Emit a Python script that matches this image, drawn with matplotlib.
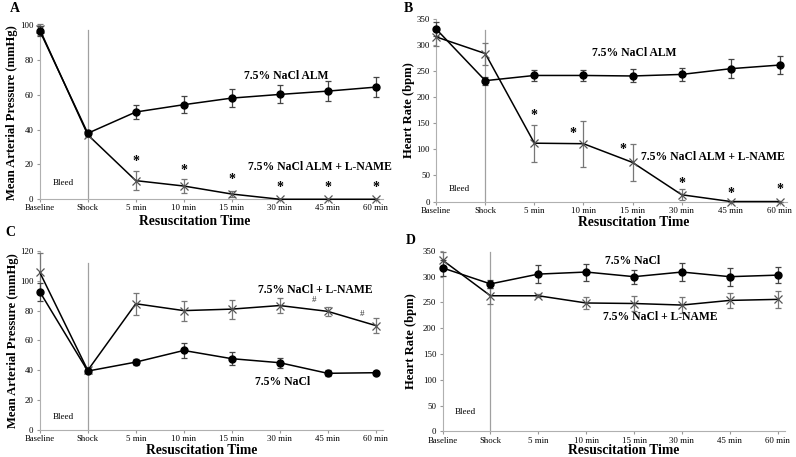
import matplotlib
matplotlib.use("Agg")
import matplotlib.pyplot as plt

plt.rcParams['font.family'] = ['Liberation Serif', 'DejaVu Serif']

times = ['Baseline', 'Shock', '5 min', '10 min', '15 min', '30 min', '45 min', '60 min']

# Panel A - MAP, 7.5% NaCl ALM vs ALM + L-NAME
a_alm = [96.7, 37.9, 50.1, 54.3, 58.1, 60.2, 62.1, 64.4]
a_alm_err = [3, 1.5, 3.8, 4.8, 5, 5.2, 5.7, 5.9]
a_lname = [97.5, 37.0, 10.7, 7.6, 3.0, 0, 0, 0]
a_lname_err = [3, 1.5, 5.3, 3.8, 1.5, 0, 0, 0]
a_star_x = [2, 3, 4, 5, 6, 7]
a_star_y = [21.6, 16.6, 11.2, 6.7, 6.7, 6.7]

# Panel B - HR, 7.5% NaCl ALM vs ALM + L-NAME
b_alm = [331, 232, 242, 242, 241, 244, 255, 262]
b_alm_err = [14, 8, 10.5, 10, 12.5, 12.8, 18, 17]
b_lname = [316, 284, 112, 111, 75, 13, 0, 0]
b_lname_err = [17, 21, 35.5, 44.5, 35.8, 11, 0, 0]
b_star_x = [2, 2.78, 3.81, 5, 6, 7]
b_star_y = [166, 130, 100, 35, 16, 24]

# Panel C - MAP, 7.5% NaCl vs NaCl + L-NAME
c_nacl = [92.6, 39.5, 45.5, 53.3, 47.8, 45.1, 38.0, 38.4]
c_nacl_err = [6, 1.5, 2, 5.3, 4.2, 3.3, 2, 1]
c_lname = [105.6, 40.0, 84.6, 80.0, 81.0, 83.4, 79.5, 70.0]
c_lname_err = [13, 2, 7.5, 6.7, 6.4, 4.8, 3, 5.1]
c_hash_x = [5.72, 6.72]
c_hash_y = [87, 77.5]

# Panel D - HR, 7.5% NaCl vs NaCl + L-NAME
d_nacl = [317, 286, 305, 309, 300, 309, 300, 303]
d_nacl_err = [15, 8, 17.4, 16.5, 13.6, 16.8, 17.4, 15.5]
d_lname = [332, 263, 263, 249, 248, 245, 254, 256]
d_lname_err = [15, 16, 3, 12, 13.6, 16, 14, 16]

W, H = 796, 457
fig = plt.figure(figsize=(W / 100, H / 100), dpi=100)


def panel(rect, ymax, ystep, ylabel, circ, circ_err, xs, xs_err, shock_top, bleed_y,
          xlab_pos, ylab_x):
    ax = fig.add_axes(rect)
    x = list(range(len(times)))
    ax.errorbar(x, xs, yerr=xs_err, color='black', lw=1.1, marker='x', ms=6,
                mec='#555555', mew=0.9, ecolor='#777777', elinewidth=0.9,
                capsize=2.2, capthick=0.9, clip_on=False, zorder=3)
    ax.errorbar(x, circ, yerr=circ_err, color='black', lw=1.1, marker='o', ms=5,
                mfc='black', mec='black', ecolor='#444444', elinewidth=0.9,
                capsize=2.2, capthick=0.9, clip_on=False, zorder=4)
    ax.plot([1, 1], [0, shock_top], color='#a0a0a0', lw=0.9, zorder=1)
    ax.text(0.48, bleed_y, 'Bleed', fontsize=6.5, ha='center', va='center')
    ax.set_xlim(0, 7.15)
    ax.set_ylim(0, ymax)
    ax.set_xticks(x)
    ax.set_xticklabels(times, fontsize=6.3)
    ax.set_yticks(range(0, ymax + 1, ystep))
    ax.tick_params(axis='y', labelsize=6.3, length=2.5, color='#999999', pad=2)
    ax.tick_params(axis='x', length=2.2, color='#999999', pad=1.5)
    for s in ['top', 'right']:
        ax.spines[s].set_visible(False)
    for s in ['left', 'bottom']:
        ax.spines[s].set_color('#b0b0b0')
        ax.spines[s].set_linewidth(0.8)
    ax.set_xlabel('Resuscitation Time', fontsize=9.8, fontweight='bold')
    ax.xaxis.set_label_coords(xlab_pos[0] / W, 1 - xlab_pos[1] / H,
                              transform=fig.transFigure)
    ax.xaxis.label.set_va('center')
    ax.set_ylabel(ylabel, fontsize=9.1, fontweight='bold')
    ax.yaxis.set_label_coords(ylab_x / W, rect[1] + rect[3] / 2,
                              transform=fig.transFigure)
    ax.yaxis.label.set_va('center')
    return ax


lbl = dict(fontsize=8.4, fontweight='bold', ha='center', va='center')
star = dict(fontsize=10, fontweight='bold', ha='center', va='center')

# A
axA = panel([0.050, 0.564, 0.431, 0.381], 100, 20, 'Mean Arterial Pressure (mmHg)',
            a_alm, a_alm_err, a_lname, a_lname_err, 97, 9.4, (195, 221.5), 12.5)
for sx, sy in zip(a_star_x, a_star_y):
    axA.text(sx, sy, '*', **star)
axA.text(5.14, 71, '7.5% NaCl ALM', **lbl)
axA.text(5.83, 18.5, '7.5% NaCl ALM + L-NAME', **lbl)

# B
axB = panel([0.548, 0.559, 0.441, 0.399], 350, 50, 'Heart Rate (bpm)',
            b_alm, b_alm_err, b_lname, b_lname_err, 329, 24, (634, 223), 409)
for sx, sy in zip(b_star_x, b_star_y):
    axB.text(sx, sy, '*', **star)
axB.text(4.04, 285, '7.5% NaCl ALM', **lbl)
axB.text(5.63, 85, '7.5% NaCl ALM + L-NAME', **lbl)

# C
axC = panel([0.050, 0.059, 0.431, 0.392], 120, 20, 'Mean Arterial Pressure (mmHg)',
            c_nacl, c_nacl_err, c_lname, c_lname_err, 112, 9, (202, 450.5), 13)
for hx, hy in zip(c_hash_x, c_hash_y):
    axC.text(hx, hy, '#', fontsize=6.5, ha='center', va='center', color='#333333')
axC.text(5.75, 93.7, '7.5% NaCl + L-NAME', **lbl)
axC.text(5.07, 32.4, '7.5% NaCl', **lbl)

# D
axD = panel([0.556, 0.056, 0.430, 0.395], 350, 50, 'Heart Rate (bpm)',
            d_nacl, d_nacl_err, d_lname, d_lname_err, 347, 37, (624, 450.5), 411)
axD.text(3.98, 330.6, '7.5% NaCl', **lbl)
axD.text(4.54, 221, '7.5% NaCl + L-NAME', **lbl)

for letter, fx, fy in [('A', 10, 8), ('B', 404, 8), ('C', 5, 233), ('D', 406, 241)]:
    fig.text(fx / W, 1 - fy / H, letter, fontsize=10, fontweight='bold',
             ha='left', va='center')

fig.savefig('out.png', dpi=100)
